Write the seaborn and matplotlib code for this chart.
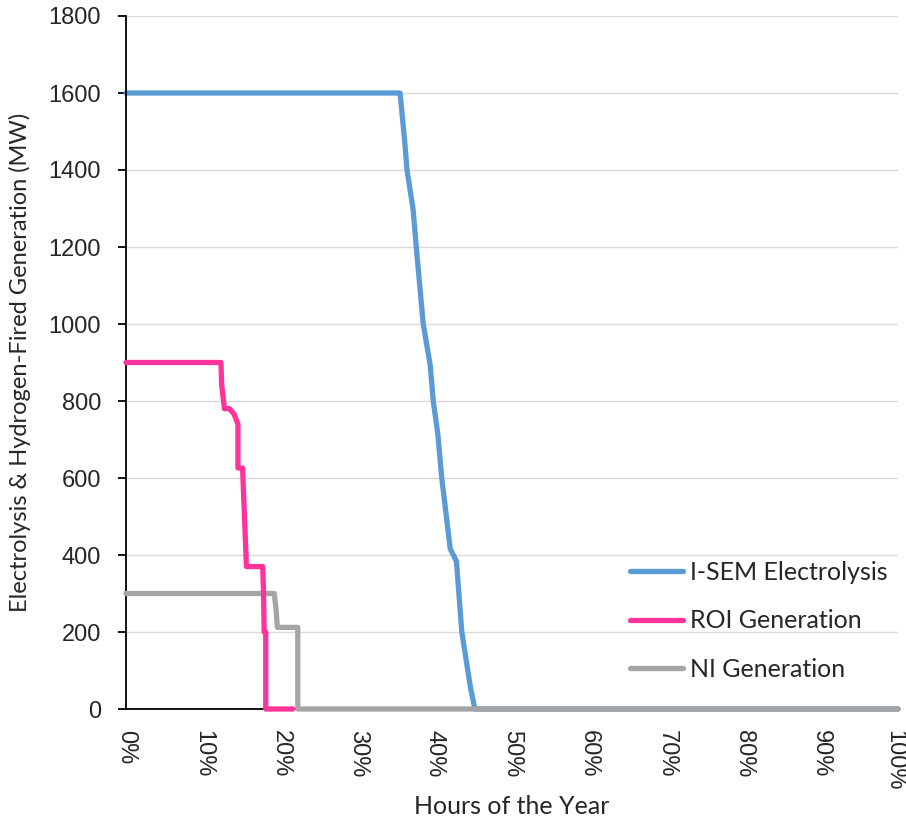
import numpy as np
import pandas as pd
import seaborn as sns
import matplotlib.pyplot as plt
import matplotlib.transforms as mtransforms
from matplotlib.ticker import PercentFormatter

# values (x = % of hours of the year, y = MW)
isem_x = [0, 35.5, 36.1, 36.4, 37.2, 37.6, 38.5, 39.4, 39.8, 40.4, 40.9, 42.0, 42.8, 43.5, 44.6, 45.2, 100]
isem_y = [1600, 1600, 1475, 1400, 1296, 1200, 1000, 894, 800, 713, 600, 416, 384, 200, 58, 0, 0]

roi_x = [0, 12.3, 12.4, 12.75, 13.4, 14.0, 14.5, 14.5, 15.1, 15.6, 17.7, 17.8, 17.9, 18.1, 18.1, 21.6]
roi_y = [900, 900, 840, 780, 780, 766, 740, 626, 626, 370, 370, 314, 200, 200, 0, 0]

ni_x = [0, 19.2, 19.45, 19.6, 22.25, 22.25, 100]
ni_y = [300, 300, 257, 212, 212, 0, 0]

y_ticks = list(range(0, 1801, 200))
x_ticks = list(range(0, 101, 10))

sns.set_theme(style="white")
plt.rcParams['font.family'] = ['Liberation Sans', 'DejaVu Sans']
label_font = ["Lato", "DejaVu Sans"]

fig = plt.figure(figsize=(9.06, 8.21), dpi=100)
ax = fig.add_axes([126 / 906, 1 - 709 / 821, 772 / 906, 693 / 821])

series = [
    ("I-SEM Electrolysis", isem_x, isem_y, "#5B9BD5", 2),
    ("ROI Generation", roi_x, roi_y, "#FF3399", 4),
    ("NI Generation", ni_x, ni_y, "#A5A5A5", 3),
]
for name, xs, ys, col, z in series:
    d = pd.DataFrame({"x": np.array(xs) / 100, "y": ys})
    sns.lineplot(data=d, x="x", y="y", sort=False, estimator=None, color=col,
                 linewidth=3.8, label=name, ax=ax, zorder=z, clip_on=False)

ax.set_xlim(0, 1)
ax.set_ylim(0, 1800)
ax.set_yticks(y_ticks)
ax.set_xticks(np.array(x_ticks) / 100)
ax.xaxis.set_major_formatter(PercentFormatter(1.0, decimals=0))
ax.grid(axis="y", color="#D9D9D9", linewidth=1.0)
ax.grid(axis="x", visible=False)
for s in ["top", "right"]:
    ax.spines[s].set_visible(False)
for s in ["left", "bottom"]:
    ax.spines[s].set_color("black")
    ax.spines[s].set_linewidth(1.3)
ax.tick_params(axis="y", length=6, width=1.3, color="black", pad=12, labelsize=17, left=True)
ax.tick_params(axis="x", length=0, pad=15, labelsize=17, labelrotation=-90)
xlabels = ax.get_xticklabels()
for lbl in xlabels:
    lbl.set_va("top")
# nudge the last label so it stays inside the canvas
xlabels[-1].set_transform(xlabels[-1].get_transform()
                          + mtransforms.ScaledTranslation(-4 / 100, 0, fig.dpi_scale_trans))

ax.set_xlabel("Hours of the Year", fontsize=18, family=label_font)
ax.set_ylabel("Electrolysis & Hydrogen-Fired Generation (MW)", fontsize=17, family=label_font)
ax.xaxis.set_label_coords(0.5, -0.124)
ax.yaxis.set_label_coords(-0.123, 0.5)

leg = ax.legend(loc="upper left", bbox_to_anchor=(630 / 906, 1 - 561 / 821),
                bbox_transform=fig.transFigure, frameon=False, borderpad=0,
                borderaxespad=0, handlelength=2.1, handletextpad=0.28,
                labelspacing=1.02, prop={"family": label_font, "size": 18})
for h in leg.get_lines():
    h.set_linewidth(3.8)

fig.savefig("out.png", dpi=100)
